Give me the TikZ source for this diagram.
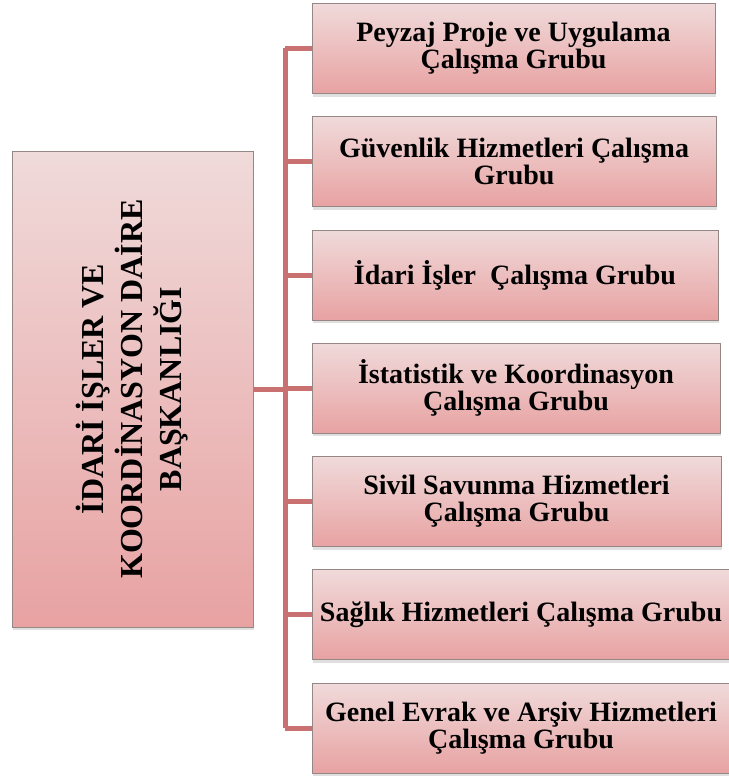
\documentclass[tikz,border=0pt]{standalone}
\usepackage{fontspec}
\setmainfont{Liberation Serif}
\usepackage{tikz}
\usetikzlibrary{positioning,shadows}
\usepackage{xcolor}
\definecolor{pembeust}{RGB}{240,218,218}
\definecolor{pembealt}{RGB}{232,162,162}
\definecolor{hatrenk}{RGB}{201,112,112}
\definecolor{kenar}{RGB}{150,135,135}
\tikzstyle{kutu}=[draw=kenar, line width=0.8pt, top color=pembeust, bottom color=pembealt,
    drop shadow={opacity=0.25, shadow xshift=1pt, shadow yshift=-3pt},
    align=center, font=\bfseries\fontsize{28}{27}\selectfont, inner sep=2pt]
\tikzstyle{hat}=[draw=hatrenk, line width=5pt]

\begin{document}
\begin{tikzpicture}[x=1pt, y=-1pt]
\useasboundingbox (0,0) rectangle (728,776);

% baskanlik
\node[kutu, minimum width=241pt, minimum height=476pt] (ust) at (132.5,389) {};
\node[rotate=90, align=center, font=\bfseries\fontsize{32}{39}\selectfont] (ustyazi) at (ust.center)
      {İDARİ İŞLER VE\\KOORDİNASYON DAİRE\\BAŞKANLIĞI};

% gruplar
\foreach \i/\sag/\yazi in {1/715/{Peyzaj Proje ve Uygulama\\Çalışma Grubu},
                          2/716/{Güvenlik Hizmetleri Çalışma\\Grubu},
                          3/718/{İdari İşler~ Çalışma Grubu},
                          4/720/{İstatistik ve Koordinasyon\\Çalışma Grubu},
                          5/721/{Sivil Savunma Hizmetleri\\Çalışma Grubu},
                          6/730/{Sağlık Hizmetleri Çalışma Grubu},
                          7/730/{Genel Evrak ve Arşiv Hizmetleri\\Çalışma Grubu}}
    \node[kutu, minimum width=\sag-312, minimum height=90pt]
        (b\i) at ({(312+\sag)/2},{48.5+(\i-1)*113.25}) {\yazi};

% baglantilar
\coordinate (tepe) at (285,48.5);
\coordinate (dip) at (285,728);
\draw[hat] (tepe) -- (dip);
\draw[hat] (ust.east) -- (ust.east -| tepe);
\foreach \i in {1,...,7}
    \draw[hat] (b\i.west -| tepe) -- (b\i.west);

\end{tikzpicture}
\end{document}
